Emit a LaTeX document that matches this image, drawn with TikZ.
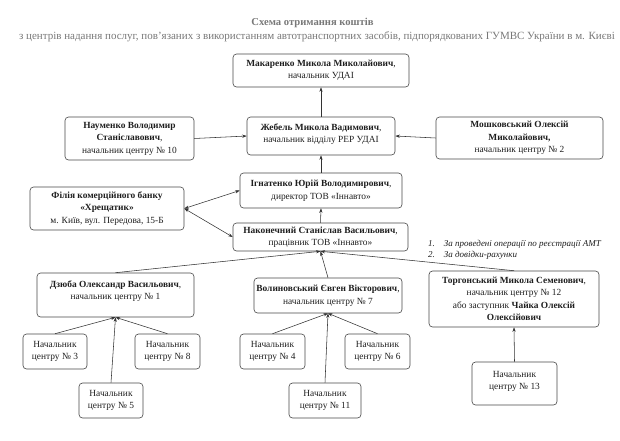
\documentclass[tikz,border=0pt]{standalone}
\usepackage{fontspec}
\setmainfont{Liberation Serif}
\usetikzlibrary{arrows.meta}
\definecolor{ttl}{RGB}{120,120,120}
\definecolor{bordc}{RGB}{70,70,70}
\definecolor{txt}{RGB}{30,30,30}
\begin{document}
\begin{tikzpicture}[x=1pt,y=-1pt,
  box/.style={draw=bordc, rounded corners=3.5pt, line width=0.6pt, align=center,
    font=\fontsize{9.4}{12.5}\selectfont, inner sep=2pt, text=txt},
  tip/.tip={Stealth[length=4.5pt,width=3.2pt]},
  conn/.style={draw=black!80, line width=0.55pt, -tip},
  dconn/.style={draw=black!80, line width=0.55pt, tip-tip},
  legend/.style={anchor=west, inner sep=0pt, font=\fontsize{9}{10.5}\selectfont\itshape, text=txt}
]
\useasboundingbox (0,0) rectangle (620,440);

% title
\node[font=\fontsize{10.6}{13}\selectfont\bfseries, text=ttl] (title) at (312.5,22.5) {Схема отримання коштів};
\node[font=\fontsize{11}{13}\selectfont, text=ttl] (subtitle) at (317,37) {з центрів надання послуг, пов'язаних з використанням автотранспортних засобів, підпорядкованих ГУМВС України в м. Києві};

% upper boxes
\node[box, minimum width=176pt, minimum height=33pt] (mak) at (321,70.5)
  {\textbf{Макаренко Микола Миколайович},\\начальник УДАІ};
\node[box, minimum width=148pt, minimum height=38pt] (zheb) at (321,136)
  {\textbf{Жебель Микола Вадимович},\\начальник відділу РЕР УДАІ\rule[-6pt]{0pt}{0pt}};
\node[box, minimum width=129pt, minimum height=43pt] (nau) at (129.5,138.5)
  {\textbf{Науменко Володимир}\\\textbf{Станіславович},\\начальник центру № 10};
\node[box, minimum width=167pt, minimum height=42pt] (mosh) at (519.5,138)
  {\textbf{Мошковський Олексій}\\\textbf{Миколайович,}\\начальник центру № 2};
\node[box, minimum width=162pt, minimum height=35pt] (ign) at (321,190.5)
  {\textbf{Ігнатенко Юрій Володимирович},\\директор ТОВ «Іннавто»};
\node[box, minimum width=154pt, minimum height=43pt] (fil) at (107,208.5)
  {\textbf{Філія комерційного банку}\\\textbf{«Хрещатик»}\\м. Київ, вул. Передова, 15-Б};
\node[box, minimum width=175pt, minimum height=28pt] (nak) at (320.5,237)
  {\textbf{Наконечний Станіслав Васильович},\\працівник ТОВ «Іннавто»};

% legend
\node[legend] (leg1) at (428,244) {1.\hspace{9pt}За проведені операції по реєстрації АМТ};
\node[legend] (leg2) at (428,255) {2.\hspace{9pt}За довідки-рахунки};

% middle boxes
\node[box, minimum width=157pt, minimum height=44pt] (dz) at (115.5,295)
  {\textbf{Дзюба Олександр Васильович},\\начальник центру № 1\rule[-10pt]{0pt}{0pt}};
\node[box, minimum width=148pt, minimum height=35pt] (vol) at (328,295.5)
  {\textbf{Волиновський Євген Вікторович},\\начальник центру № 7};
\node[box, minimum width=170pt, minimum height=56pt] (tor) at (514,299)
  {\textbf{Торгонський Микола Семенович},\\начальник центру № 12\\або заступник \textbf{Чайка Олексій}\\\textbf{Олексійович}};

% bottom boxes
\node[box, minimum width=64pt, minimum height=35pt] (c3) at (55,351.5) {Начальник\\центру № 3};
\node[box, minimum width=65pt, minimum height=35pt] (c8) at (167.5,351.5) {Начальник\\центру № 8};
\node[box, minimum width=64pt, minimum height=35pt] (c5) at (111,400.5) {Начальник\\центру № 5};
\node[box, minimum width=65pt, minimum height=35pt] (c4) at (272.5,351.5) {Начальник\\центру № 4};
\node[box, minimum width=65pt, minimum height=35pt] (c6) at (377.5,351.5) {Начальник\\центру № 6};
\node[box, minimum width=72pt, minimum height=35pt] (c11) at (325,400.5) {Начальник\\центру № 11};
\node[box, minimum width=85pt, minimum height=43pt] (c13) at (514.5,383.5) {Начальник\\центру № 13\rule[-6pt]{0pt}{0pt}};

% connectors
\draw[conn] (zheb.north) -- (mak.south);
\draw[conn] (nau.east) -- (zheb.west);
\draw[conn] (mosh.west) -- (zheb.east);
\draw[conn] (ign.north) -- (zheb.south);
\draw[conn] (nak.north) -- (ign.south);
\draw[dconn] (fil.east) -- (ign.west);
\draw[dconn] (fil.east) -- (nak.west);
\draw[conn] (dz.north) -- (nak.south);
\draw[conn] (vol.north) -- (nak.south);
\draw[conn] (tor.north) -- (nak.south);
\draw[conn] (c3.north) -- (dz.south);
\draw[conn] (c8.north) -- (dz.south);
\draw[conn] (c5.north) -- (dz.south);
\draw[conn] (c4.north) -- (vol.south);
\draw[conn] (c6.north) -- (vol.south);
\draw[conn] (c11.north) -- (vol.south);
\draw[conn] (c13.north) -- (tor.south);
\end{tikzpicture}
\end{document}
